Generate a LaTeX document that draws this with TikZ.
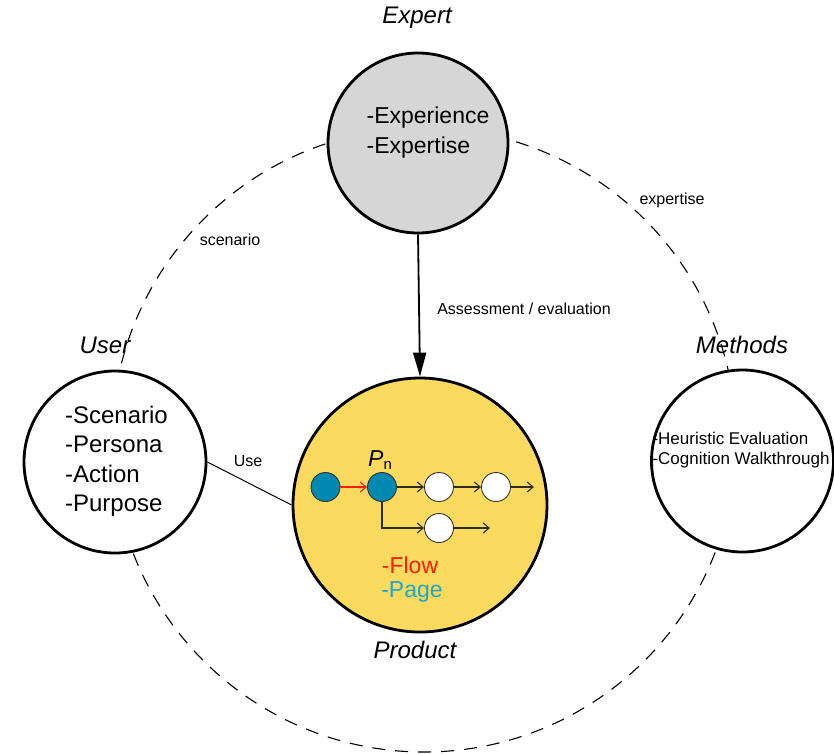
\documentclass[tikz,border=0pt]{standalone}
\usepackage{fontspec}
\setmainfont{Liberation Sans}
\usetikzlibrary{arrows.meta}
\definecolor{prodyellow}{RGB}{252,218,94}
\definecolor{expertgray}{RGB}{214,214,214}
\definecolor{pageblue}{RGB}{0,138,178}
\definecolor{pagetext}{RGB}{30,165,205}
\definecolor{flowred}{RGB}{255,30,0}
\definecolor{flowline}{RGB}{45,45,25}
\newcommand{\fsz}[2]{\fontsize{#1}{#2}\selectfont}
\begin{document}
\begin{tikzpicture}[x=1pt,y=-1pt,
  bigcirc/.style={draw=black,line width=2.8pt,circle,inner sep=0pt},
  pagenode/.style={draw=black!80,line width=0.9pt,circle,inner sep=0pt,minimum size=29pt},
  flowarr/.style={draw=flowline,line width=1.1pt,-{Straight Barb[length=6pt,width=10pt]}},
  biglabel/.style={font=\fsz{24}{24}\itshape},
  smalllabel/.style={font=\fsz{16}{16}},
  inner/.style={align=left,inner sep=0pt}
]
\useasboundingbox (0,0) rectangle (834,753);
% big dashed circle
\draw[line width=1.1pt,dash pattern=on 13pt off 10pt] (424,440) circle[radius=312];
% main circles
\node[bigcirc,fill=expertgray,minimum size=180pt] (expert) at (418,143) {};
\node[bigcirc,fill=white,minimum size=182pt] (user) at (115,462) {};
\node[bigcirc,fill=white,minimum size=182pt] (methods) at (742.5,461) {};
\node[bigcirc,fill=prodyellow,minimum size=254pt] (product) at (420,505) {};
% labels
\node[biglabel] (lexpert) at (417,18) {Expert};
\node[biglabel] (luser) at (105,345) {User};
\node[biglabel] (lmethods) at (742,345) {Methods};
\node[biglabel] (lproduct) at (415,650) {Product};
% inner texts
\node[inner,font=\fsz{23}{30}] (texpert) at (428,133) {-Experience\\-Expertise};
\node[inner,font=\fsz{24}{29.5}] (tuser) at (116.5,461.5) {-Scenario\\-Persona\\-Action\\-Purpose};
\node[inner,font=\fsz{17}{20}] (tmethods) at (741,450) {-Heuristic Evaluation\\-Cognition Walkthrough};
% connectors
\draw[line width=1.8pt,-{Triangle[length=24pt,width=13pt]}] (expert.south) -- (product.north)
  node[pos=0.52,right=14pt,smalllabel] (lassess) {Assessment / evaluation};
\draw[line width=1pt] (user.east) -- (product.west);
\node[smalllabel] (luse) at (248,461) {Use};
\node[smalllabel] (lscen) at (230,240) {scenario};
\node[smalllabel] (lexpt) at (672,200) {expertise};
% flow inside product
\node[pagenode,fill=pageblue] (a1) at (325.5,487) {};
\node[pagenode,fill=pageblue] (pn) at (382,487) {};
\node[pagenode,fill=white] (w1) at (439,487) {};
\node[pagenode,fill=white] (w2) at (496,487) {};
\node[pagenode,fill=white] (w3) at (439,528) {};
\coordinate (e1) at (534,487);
\coordinate (e2) at (490,528);
\draw[flowarr,draw=flowred] (a1) -- (pn);
\draw[flowarr] (pn) -- (w1);
\draw[flowarr] (w1) -- (w2);
\draw[flowarr] (w2) -- (e1);
\draw[flowarr] (pn.south) |- (w3.west);
\draw[flowarr] (w3) -- (e2);
\node[inner sep=0pt] (lpn) at (380,460) {\fsz{23}{23}\itshape P\/\raisebox{-3pt}{\upshape\fsz{15}{15}n}};
\node[inner,font=\fsz{23}{23},text=flowred] (lflow) at (410,565) {-Flow};
\node[inner,font=\fsz{23}{23},text=pagetext] (lpage) at (412,592) {-Page};
\end{tikzpicture}
\end{document}
